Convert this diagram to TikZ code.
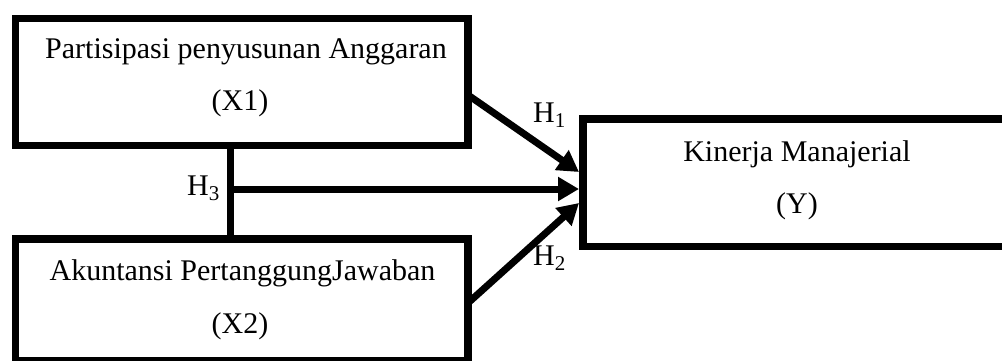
\documentclass[tikz,border=0pt]{standalone}
\usepackage{fontspec}
\setmainfont{Liberation Serif}
\usetikzlibrary{arrows.meta,calc}
\begin{document}
\begin{tikzpicture}[x=1pt,y=-1pt,
  box/.style={draw=black,line width=7.5pt,inner sep=0pt,outer sep=0pt,fill=none},
  txt/.style={anchor=base,inner sep=0pt,font=\fontsize{30}{36}\selectfont},
  lbl/.style={anchor=base west,inner sep=0pt,font=\fontsize{30}{36}\selectfont},
  conn/.style={line width=7pt},
  arr/.style={line width=7pt,-{Triangle[length=21pt,width=23pt]}}]
\useasboundingbox (0,0) rectangle (1002,360);
\clip (0,0) rectangle (1002,360);
% boxes
\node[box,minimum width=452.5pt,minimum height=127pt] (x1) at (241.75,82) {};
\node[box,minimum width=452.5pt,minimum height=122pt] (x2) at (241.75,300) {};
\node[box,minimum width=428pt,minimum height=127.5pt] (y) at (797,182.75) {};
% texts
\node[txt] (x1a) at (246,58) {Partisipasi penyusunan Anggaran};
\node[txt] (x1b) at (240,110) {(X1)};
\node[txt] (x2a) at (242.5,280) {Akuntansi PertanggungJawaban};
\node[txt] (x2b) at (240,333) {(X2)};
\node[txt] (ya) at (797,161) {Kinerja Manajerial};
\node[txt] (yb) at (797,213) {(Y)};
% connectors
\coordinate (j) at (230,189);
\draw[conn] (j |- x1.south) -- (j |- x2.north);
\draw[arr] (j) -- ($(y.west)+(-4,6.25)$);
\draw[arr] ($(x1.east)+(0,13)$) -- ($(y.west)+(-4,-10.75)$);
\draw[arr] ($(x2.east)+(0,3)$) -- ($(y.west)+(-4,20.25)$);
% labels
\node[lbl] (h1) at (533,122) {H\textsubscript{1}};
\node[lbl] (h2) at (533,265) {H\textsubscript{2}};
\node[lbl] (h3) at (187,195) {H\textsubscript{3}};
\end{tikzpicture}
\end{document}
